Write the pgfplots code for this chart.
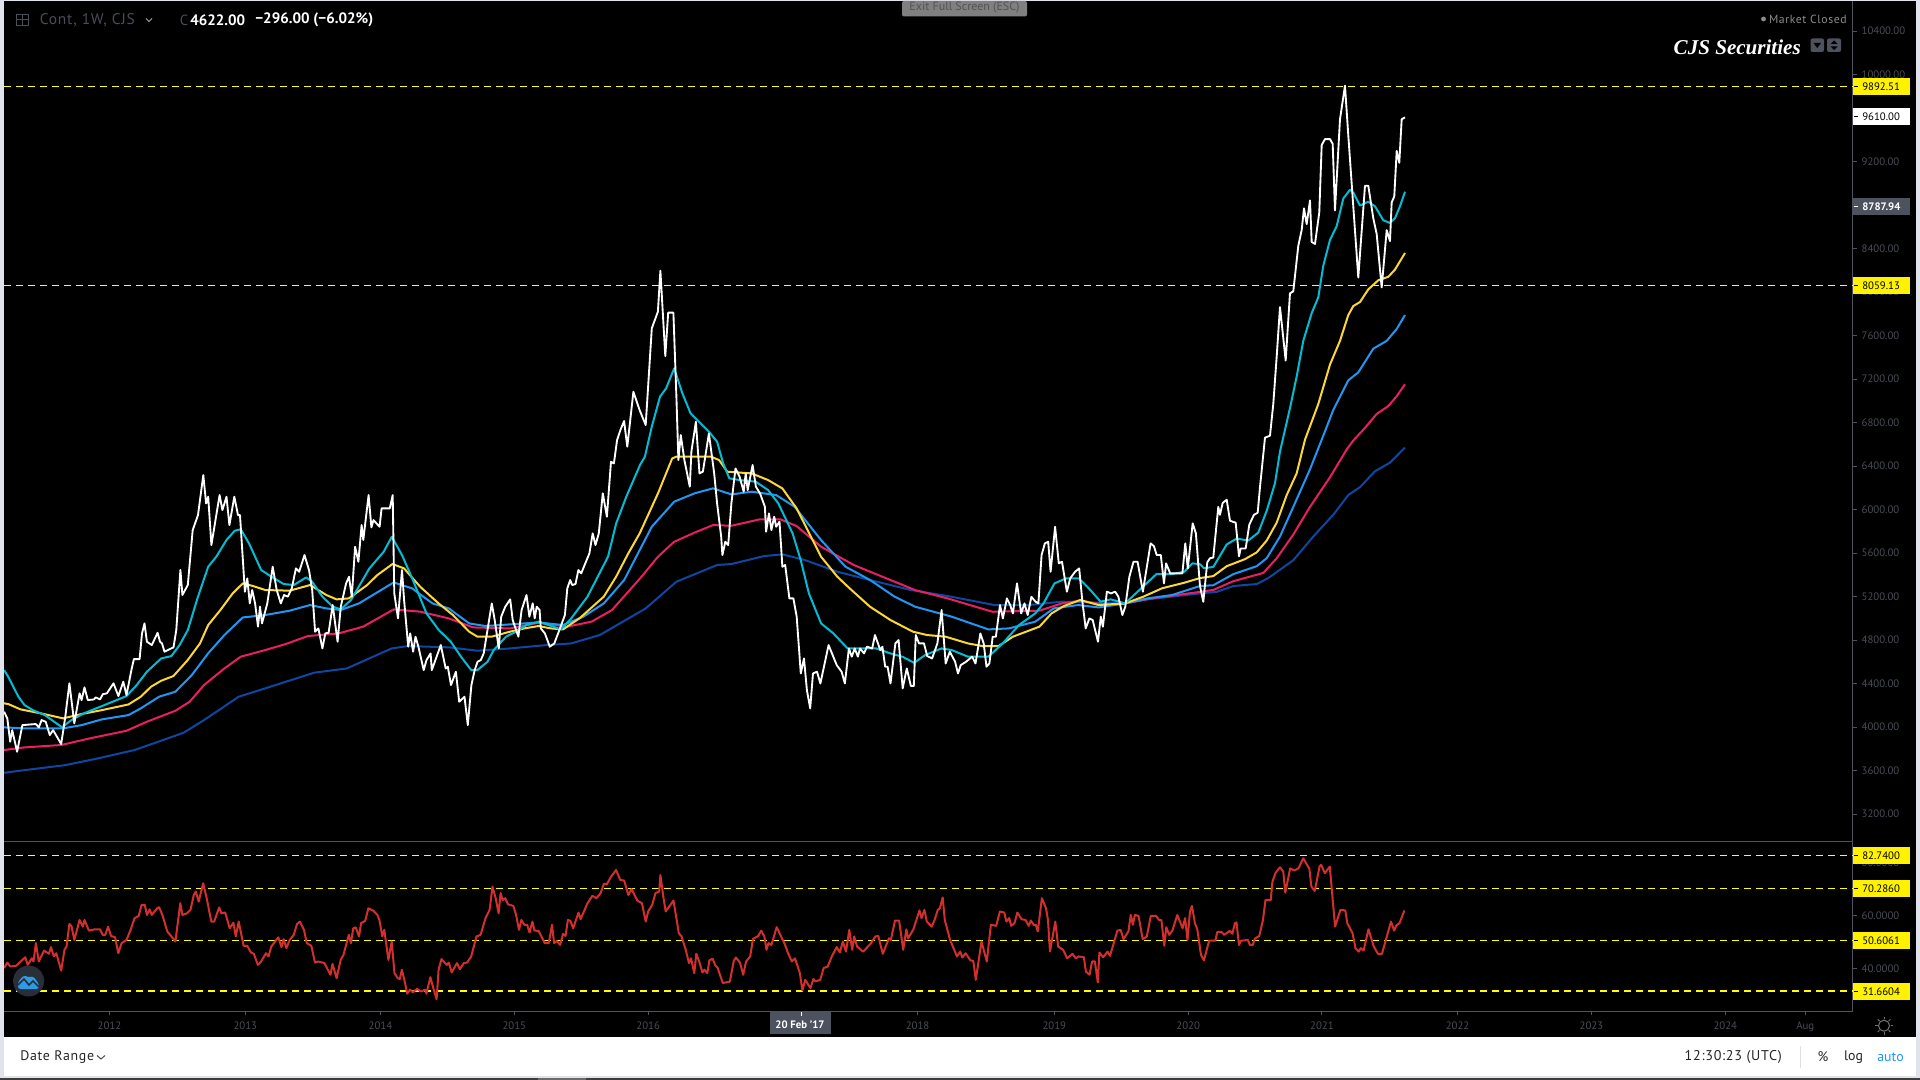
\documentclass[border=0pt]{standalone}
\usepackage{fontspec}
\usepackage{pgfplots}
\pgfplotsset{compat=1.18}
\setmainfont{PT Sans}
\newfontfamily\spc[LetterSpace=5]{PT Sans}
\newfontfamily\serifbi{Liberation Serif}
\definecolor{bgl}{HTML}{E0E3EB}
\definecolor{axl}{HTML}{50535E}
\definecolor{tkl}{HTML}{4A4D57}
\definecolor{boxg}{HTML}{4C525E}
\definecolor{cCyan}{HTML}{00BCD4}
\definecolor{cYel}{HTML}{FDD835}
\definecolor{cBlue}{HTML}{2196F3}
\definecolor{cPink}{HTML}{E91E63}
\definecolor{cDark}{HTML}{0D47A1}
\definecolor{cRed}{HTML}{D32F2F}
\definecolor{cDash}{HTML}{FFFF00}
\definecolor{logoD}{HTML}{2A2E39}
\definecolor{logoB}{HTML}{2E9BE6}
\pgfplotsset{
  paneaxis/.style={
    scale only axis, width=1386.75pt,
    xmin=4, xmax=1853,
    axis x line=bottom, axis y line=right,
    axis line style={draw=axl,line width=0.75pt,-},
    tick style={draw=axl,line width=0.75pt},
    major tick length=3pt,
    tick align=outside,
    scaled y ticks=false,
    tick label style={text=tkl,font=\fontsize{8.1}{10}\selectfont},
    every axis plot/.append style={line join=round,no markers},
  },
  lvl/.style={cDash,line width=1.1pt,dash pattern=on 5.25pt off 3.75pt},
}
\begin{document}
\begin{tikzpicture}
\begin{scope}[x=0.75pt,y=-0.75pt]
\fill[bgl] (0,0) rectangle (1920,1080);
\fill[black] (4,1) rectangle (1916,1037);
\fill[white] (4,1037) rectangle (1916,1076);
\fill[black!76] (0,1078) rectangle (1920,1080);
\fill[black!58] (538,1078) rectangle (586,1080);
\end{scope}

% ---------- price pane
\begin{axis}[paneaxis, name=main, at={(3pt,-630.75pt)}, anchor=south west,
  height=630pt, ymin=2953.4, ymax=10676.8,
  xtick=\empty,
  ytick={3200,3600,4000,4400,4800,5200,5600,6000,6400,6800,7200,7600,8000,8400,9200,10000,10400},
  /pgf/number format/fixed,/pgf/number format/fixed zerofill,/pgf/number format/precision=2,/pgf/number format/1000 sep={},/pgf/number format/assume math mode=true,
  ]
\addplot[lvl] coordinates {(4,9892.51)(1853,9892.51)};
\addplot[lvl] coordinates {(4,8059.13)(1853,8059.13)};
% long moving average
\addplot[cDark,line width=1.5pt] coordinates {(4.1,3581)(24.5,3605)(65.3,3651)(97.9,3713)(134.6,3790)(163.2,3882)(183.6,3949)(204,4065)(238.7,4280)(265.2,4357)(314.2,4501)(346.8,4540)(391.7,4724)(408,4746)(448.8,4734)(477.4,4703)(510,4724)(546.7,4755)(571.2,4770)(599.8,4847)(645.7,5092)(676.3,5337)(717.1,5491)(731.4,5500)(764,5573)(782.4,5589)(804.8,5537)(837.4,5429)(870.1,5353)(910.9,5261)(947.6,5206)(994.5,5123)(1029.2,5123)(1061.8,5154)(1125.1,5138)(1147.5,5175)(1199.7,5230)(1216.7,5244)(1233.3,5298)(1256.7,5316)(1268.3,5371)(1293.3,5535)(1313.3,5753)(1333.3,5953)(1348.3,6134)(1360,6207)(1375,6353)(1390,6432)(1405,6571)};
\addplot[cPink,line width=1.5pt] coordinates {(4.1,3790)(24.5,3814)(61.2,3836)(89.8,3897)(126.5,3967)(146.9,4050)(175.4,4151)(189.7,4234)(204,4387)(224.4,4540)(240.7,4648)(265.2,4709)(285.6,4764)(308,4838)(338.6,4862)(363.1,4924)(393.7,5083)(420.2,5062)(448.8,5000)(473.3,4917)(510,4908)(538.6,4960)(567.1,4924)(591.6,4970)(612,5077)(641.6,5384)(657.9,5567)(674.2,5705)(696.7,5797)(713,5858)(731.4,5852)(760,5911)(780.4,5911)(796.6,5849)(821.1,5659)(853.8,5491)(890.5,5353)(915,5261)(947.6,5184)(992.5,5061)(1039.4,5071)(1061.8,5138)(1080.2,5163)(1106.7,5123)(1125.1,5138)(1151.6,5184)(1200,5244)(1213.3,5262)(1233.3,5342)(1263.3,5418)(1276.7,5553)(1293.3,5771)(1310,6025)(1330,6298)(1346.7,6553)(1353.3,6636)(1363.3,6734)(1376.7,6880)(1388.3,6952)(1396.7,7043)(1405,7153)};
\addplot[cBlue,line width=1.5pt] coordinates {(4.1,3998)(24.5,3989)(63.2,3989)(81.6,4019)(102,4072)(128.5,4111)(140.8,4173)(159.1,4280)(175.4,4326)(191.8,4479)(208.1,4678)(224.4,4847)(242.8,5009)(265.2,5031)(289.7,5071)(310.1,5123)(326.4,5092)(340.7,5077)(359,5138)(393.7,5331)(412.1,5276)(432.5,5138)(448.8,5092)(469.2,4954)(485.5,4930)(510,4945)(538.6,4963)(563,4939)(583.4,5016)(603.8,5138)(624.2,5353)(651.8,5843)(674.2,6073)(694.6,6150)(713,6196)(731.4,6140)(751.8,6165)(776.2,6134)(794.6,6027)(821.1,5720)(845.6,5475)(870.1,5353)(894.6,5200)(915,5108)(951.7,5016)(988.4,4899)(1008.8,4908)(1035.3,4970)(1053.7,5092)(1078.2,5123)(1098.6,5101)(1125.1,5138)(1147.5,5184)(1172,5215)(1200,5298)(1213.3,5305)(1233.3,5407)(1256.7,5480)(1266.7,5553)(1280,5753)(1293.3,6025)(1310,6371)(1321.7,6643)(1333.3,6916)(1348.3,7189)(1358.3,7262)(1373.3,7480)(1386.7,7552)(1396.7,7661)(1405,7789)};
\addplot[cYel,line width=1.5pt] coordinates {(4.1,4219)(8.2,4213)(20.4,4164)(40.8,4127)(63.2,4081)(81.6,4121)(102,4157)(128.5,4209)(140.8,4280)(151,4372)(161.2,4427)(173.4,4470)(187.7,4617)(200,4770)(208.2,4939)(220.4,5077)(232.7,5230)(242.8,5322)(253,5298)(265.3,5261)(289.7,5255)(310.1,5307)(326.4,5215)(336.6,5175)(348.8,5184)(367.2,5307)(377.4,5399)(392.5,5500)(404,5460)(420.2,5291)(438.6,5138)(452.9,5031)(469.2,4878)(477.4,4832)(491.6,4832)(510,4878)(524.3,4908)(538.6,4930)(550.8,4908)(563,4899)(579.4,5000)(603.8,5200)(616.1,5383)(628.3,5598)(639.7,5782)(658,6150)(672.2,6471)(676.3,6487)(711,6487)(719.1,6456)(727.3,6349)(751.8,6333)(768.1,6272)(782.4,6195)(796.6,6012)(821.1,5567)(837.4,5383)(849.7,5276)(870.1,5107)(890.5,4985)(912.9,4878)(927.2,4847)(945.6,4832)(968,4770)(982.3,4746)(998.6,4746)(1012.9,4832)(1039.4,4924)(1051.6,5046)(1063.9,5114)(1080.2,5169)(1098.6,5123)(1125.1,5138)(1143.4,5200)(1161.8,5276)(1184.2,5328)(1200,5371)(1213.3,5389)(1226.7,5480)(1245,5545)(1256.7,5607)(1266.7,5716)(1276.7,5880)(1286.7,6134)(1296.7,6334)(1305,6643)(1318.3,6971)(1330,7334)(1340,7552)(1348.3,7789)(1353.3,7872)(1360,7909)(1368.3,8025)(1378.3,8109)(1388.3,8141)(1395,8207)(1405,8360)};
\addplot[cCyan,line width=1.5pt] coordinates {(4.1,4525)(8.2,4464)(18.4,4280)(24.5,4203)(32.7,4157)(44.9,4111)(62,3999)(71.4,4065)(83.7,4127)(102,4194)(126.5,4286)(136.7,4387)(146.9,4510)(161.2,4632)(171.4,4654)(179.6,4755)(187.8,4893)(198,5200)(208.2,5475)(216.3,5567)(226.5,5721)(234.7,5806)(240.8,5819)(249,5690)(261.2,5445)(271.4,5383)(283.7,5316)(293.9,5307)(306.1,5377)(312.2,5337)(322.4,5200)(332.7,5108)(340.8,5083)(351,5169)(369.4,5460)(383.7,5613)(391.8,5751)(402,5583)(412.2,5368)(426.5,5046)(438.8,4893)(450.8,4786)(461,4648)(471.2,4525)(477.4,4525)(487.6,4602)(493.7,4709)(506,4832)(516.1,4878)(526.3,4939)(538.6,4970)(548.8,4939)(561,4899)(571.2,5000)(587.5,5200)(608,5567)(616.2,5874)(626.3,6119)(640,6410)(644.9,6487)(651.8,6763)(660,7038)(666.1,7115)(674.2,7299)(682.4,7069)(690.6,6885)(696.7,6830)(708.9,6717)(717.1,6625)(723.2,6425)(729.3,6288)(739.5,6272)(755.8,6257)(768.1,6180)(778.3,6058)(792.6,5782)(800.7,5537)(808.9,5230)(821.1,4954)(833.4,4862)(847.6,4724)(861.9,4724)(876.2,4724)(890.5,4678)(902.7,4647)(914.1,4592)(925.2,4663)(941.5,4724)(951.7,4709)(968,4648)(988.4,4648)(1002.7,4770)(1019,4939)(1035.3,5046)(1043.5,5138)(1054.5,5322)(1065.9,5368)(1079,5368)(1090.4,5261)(1100.6,5154)(1110.8,5175)(1125.1,5138)(1139.4,5261)(1156.5,5408)(1172,5408)(1184.2,5429)(1192.4,5506)(1200,5498)(1204,5462)(1213.3,5473)(1226.7,5680)(1236.7,5734)(1248.3,5716)(1258.3,5789)(1266.7,5989)(1275,6243)(1280,6534)(1290,6934)(1296.7,7225)(1303.3,7552)(1311.7,7807)(1318.3,7952)(1323.3,8243)(1330,8480)(1336.7,8607)(1343.3,8861)(1350,8941)(1353.3,8916)(1360,8796)(1368.3,8832)(1375,8789)(1383.3,8661)(1390,8636)(1395,8680)(1400,8789)(1405,8923)};
% close
\addplot[white,line width=1.4pt] coordinates {(4.1,4142)(7.3,4081)(10.2,3866)(12.2,3973)(17.1,3774)(22.4,4019)(35.9,4029)(38.8,3998)(41.6,4065)(45.7,4050)(49.8,3927)(53.1,3973)(61.2,3845)(65.3,4096)(69.4,4403)(74.3,4035)(79.6,4311)(81.6,4249)(84.5,4366)(87.8,4249)(93.9,4255)(95.9,4274)(100,4255)(102.9,4304)(106.9,4311)(113.5,4403)(118.4,4286)(123.3,4418)(126.5,4295)(131.4,4525)(133.9,4626)(139.6,4626)(142,4862)(144.5,4954)(146.9,4786)(151.8,4755)(157.6,4868)(160,4786)(162,4770)(164.5,4694)(173.5,4734)(176.3,4893)(180.4,5445)(182.4,5215)(187.8,5307)(192.7,5812)(198,5950)(203.3,6318)(206.1,6058)(208.2,6119)(211.4,5675)(219.6,6134)(222.4,5996)(226.5,6119)(229.4,5858)(234.3,6119)(238,5950)(240,5950)(244.9,5245)(247.3,5368)(249.8,5138)(252.2,5261)(255.1,5138)(258,4924)(260,5108)(262,4954)(267.3,5138)(272.7,5475)(276.7,5261)(280.8,5138)(284.1,5215)(287.8,5200)(291.8,5276)(295.9,5460)(299.2,5429)(304.5,5583)(309,5445)(312.2,5261)(315.1,4878)(318.4,4908)(322.4,4724)(325.3,4862)(328.6,4868)(332.7,5123)(337.6,4786)(340.8,5108)(346.1,5322)(349,5383)(351.8,5199)(355.1,5659)(358.4,5521)(361.6,5858)(363.3,5721)(368.6,6134)(371.4,5837)(373.5,5904)(379.6,5843)(381.6,6012)(389.8,6012)(392.7,6134)(394.3,5230)(398,5000)(402,5445)(404.1,5169)(408.2,4740)(410.2,4862)(413.1,4694)(415.5,4832)(418.4,4740)(423.7,4525)(426.5,4617)(430.6,4678)(431.8,4525)(440.8,4755)(445.7,4540)(447.8,4556)(451,4387)(455.9,4510)(459.2,4234)(464.5,4280)(467.8,4019)(471.4,4387)(474.7,4525)(477.6,4602)(480.8,4617)(483.7,4678)(491.8,5138)(494.7,4985)(498.8,4724)(501.2,5016)(505.3,5108)(510.2,5175)(512.7,4985)(518.4,4832)(521.6,5077)(526.5,5215)(529.4,5016)(532.7,5138)(534.7,5000)(536.7,5108)(539.6,5077)(540.8,4908)(544.9,4862)(549.8,4740)(554.3,4770)(560,4908)(564.9,5031)(567.3,5276)(570.2,5353)(572.2,5307)(575.5,5316)(578.4,5445)(581.2,5414)(585.3,5506)(589.4,5598)(592.7,5782)(595.5,5674)(598.8,5782)(602.8,6150)(606.9,5935)(611,6441)(613.9,6425)(617.1,6640)(620.4,6732)(624.1,6815)(627.3,6579)(633.4,7084)(639.6,6916)(645.7,6778)(651.8,7667)(657.9,7820)(660.4,8197)(665.3,7412)(668.2,7811)(673.4,7811)(676.3,7069)(678.4,6456)(680.8,6686)(684.4,6456)(689.8,6211)(691.4,6533)(695.9,6809)(699.5,6333)(702.9,6349)(708.9,6701)(714.2,6333)(717.1,6058)(721.2,5751)(722.4,5582)(725.3,5705)(728.2,5674)(731.4,6058)(735.5,6379)(739.6,6303)(743.7,6165)(745.7,6333)(747.7,6180)(752.6,6410)(755.9,6211)(760,6150)(764.9,6027)(766.1,5797)(769,5966)(771.4,5812)(774.2,5935)(776.2,5843)(779.5,5889)(782.4,5475)(785.2,5491)(789.4,5184)(793.4,5184)(796.7,5016)(800.8,4494)(804,4632)(806.9,4341)(810.2,4173)(813,4494)(817,4510)(820.4,4402)(828.6,4755)(836.7,4571)(841.6,4510)(844.9,4402)(848.9,4724)(851.8,4648)(854.7,4724)(857.9,4648)(860,4724)(864.1,4678)(866.9,4740)(872.2,4724)(875,4847)(880.3,4709)(882.4,4740)(885.2,4556)(887.6,4556)(890.5,4402)(895.4,4770)(898.6,4801)(902.7,4357)(906.8,4540)(910.9,4378)(913.8,4378)(915.8,4847)(919,4770)(924,4770)(927.2,4654)(932.1,4632)(937.4,4770)(941.6,5077)(945.7,4586)(949.8,4694)(955.1,4602)(958,4494)(960.8,4571)(966.1,4602)(972.2,4648)(975.5,4586)(980.4,4862)(983.7,4770)(986.5,4556)(989.4,4586)(992.7,4832)(995.9,4832)(1000,5123)(1002.9,5000)(1006.9,5184)(1010.2,5123)(1012.9,5046)(1017,5322)(1021.2,5046)(1024.5,5138)(1027.7,5031)(1031.4,5199)(1035.5,5154)(1038.4,5138)(1041.6,5583)(1044.9,5690)(1048.2,5705)(1050.6,5429)(1055.1,5843)(1058.8,5506)(1062,5521)(1066.9,5246)(1070.2,5368)(1075.1,5429)(1079.2,5460)(1082.4,5154)(1085.7,4908)(1089.4,5000)(1092.7,4985)(1098,4786)(1100.8,5016)(1102.9,4924)(1106.9,5246)(1111,5230)(1115.1,5246)(1118.4,5200)(1122.4,5031)(1125.3,5108)(1129.4,5383)(1133.5,5521)(1137.6,5521)(1142.9,5246)(1150.6,5690)(1153.9,5665)(1156.7,5583)(1160.8,5583)(1164,5322)(1166.1,5506)(1170.2,5414)(1182.4,5414)(1185.3,5690)(1187.8,5460)(1192.7,5874)(1195.9,5782)(1200,5298)(1203.3,5153)(1207.3,5516)(1210,5553)(1213.3,5560)(1218.3,6025)(1220,5953)(1222.7,6062)(1226.7,6091)(1230,5898)(1235.7,5880)(1239,5571)(1240.7,5643)(1245.7,5643)(1249.3,5862)(1254,5953)(1257.7,5971)(1260,6207)(1265,6662)(1270,6680)(1273.3,6971)(1276.7,7407)(1280,7862)(1285.7,7371)(1290,7989)(1293.3,8007)(1298.3,8425)(1301.7,8571)(1304,8770)(1306.7,8625)(1310,8843)(1311.7,8461)(1315,8443)(1319.3,8734)(1321.7,9352)(1325,9407)(1330,9407)(1332.7,9363)(1335,8752)(1340,9589)(1345,9898)(1348.3,9443)(1358.3,8134)(1365,8978)(1368.3,8978)(1373.3,8680)(1376.7,8534)(1381.7,8043)(1386.7,8570)(1390,8469)(1391.7,8825)(1394.3,8880)(1396.7,9298)(1399.3,9189)(1401.7,9589)(1405,9607)};
\end{axis}

% ---------- oscillator pane
\begin{axis}[paneaxis, name=osc, at={(3pt,-758.6pt)}, anchor=south west,
  height=127.5pt, ymin=24.0, ymax=87.92,
  ytick={40,60,80},
  /pgf/number format/fixed,/pgf/number format/fixed zerofill,/pgf/number format/precision=4,/pgf/number format/1000 sep={},/pgf/number format/assume math mode=true,
  xtick={109.4,245.3,380.4,514.3,648.2,917.6,1054.3,1188.2,1322,1457.6,1591.4,1725.3,1805.3},
  xticklabels={2012,2013,2014,2015,2016,2018,2019,2020,2021,2022,2023,2024,Aug},
  xticklabel style={yshift=-1.5pt},
  ]
\addplot[lvl] coordinates {(4,82.74)(1853,82.74)};
\addplot[lvl] coordinates {(4,70.286)(1853,70.286)};
\addplot[lvl] coordinates {(4,50.6061)(1853,50.6061)};
\addplot[lvl] coordinates {(4,31.6604)(1853,31.6604)};
\addplot[cRed,line width=1.5pt] coordinates {(4.1,40.3)(7.3,42.4)(10.2,40.9)(16.3,41.2)(19.6,42.4)(25.3,44.4)(27.7,41.5)(31.8,44.0)(33.5,42.8)(35.9,49.7)(38.8,42.8)(44.1,46.9)(49,45.7)(51,48.2)(53.9,44.7)(56.3,45.9)(61.2,39.4)(64.5,47.2)(66.5,48.4)(69.4,56.9)(71.4,56.2)(74.3,50.9)(79.6,58.4)(82.8,55.9)(84.5,58.4)(88.9,54.4)(94.7,54.9)(100,54.9)(102.8,52.8)(105.3,52.8)(108.1,55.9)(111,52.4)(115.1,51.9)(118.3,45.9)(121.6,49.7)(126.5,50.9)(130.6,54.7)(134.6,59.1)(138.7,59.9)(141.6,64.1)(144.8,64.1)(146.9,60.3)(149.7,62.4)(151.8,60.3)(157.1,62.8)(159.1,63.2)(162.4,60.3)(167.3,54.1)(171.4,52.2)(175.4,50.3)(180.3,64.7)(182.4,60.3)(186.9,60.9)(190.5,62.2)(193.8,67.8)(195.8,69.1)(198.7,65.3)(203.2,72.2)(206.9,66.2)(211.3,57.8)(214.2,57.8)(219.1,63.1)(221.5,60.9)(225.2,61.2)(229.7,55.3)(233.4,57.4)(235.8,52.2)(238.7,57.8)(243.6,48.7)(247.2,48.7)(250.9,46.2)(253.8,45.7)(257.9,41.5)(261.1,42.8)(266,45.9)(268.5,44.7)(271.3,48.4)(278.3,51.9)(281.5,48.2)(283.6,51.2)(286.4,47.8)(289.7,50.9)(293.8,52.8)(297,56.9)(299.9,57.8)(304,54.7)(306.8,49.7)(311.3,48.7)(315,42.4)(318.2,42.8)(324.4,42.2)(330.5,37.8)(332.5,41.9)(336.6,36.5)(340.7,43.4)(343.5,45.3)(348.8,52.8)(350.9,49.7)(353.3,55.3)(355.8,55.6)(359,52.2)(361.1,57.2)(365.2,58.1)(368.4,62.8)(373.3,61.9)(377.4,60.3)(379.4,58.4)(382.3,52.2)(384.3,54.7)(388.4,43.4)(391.7,50.3)(394.5,38.4)(397.8,36.5)(399.8,36.2)(401.9,39.7)(404.7,35.3)(407.2,30.7)(410,32.2)(412.9,31.2)(417,32.5)(421.1,31.5)(425.1,32.2)(426.4,30.7)(430.4,36.9)(433.3,32.8)(436.6,28.6)(438.6,39.7)(441.5,43.7)(446.8,41.5)(448.8,42.4)(451.7,38.7)(457,42.2)(459.8,39.9)(463.9,42.2)(467.2,42.4)(471.2,44.7)(476.5,52.2)(480.6,52.8)(485.5,59.1)(489.6,62.2)(492.5,70.9)(495.7,66.6)(498.6,60.9)(500.6,68.5)(502.7,65.9)(505.1,66.6)(508,64.3)(513.3,63.7)(516.1,60.3)(519,54.7)(521.4,58.4)(524.3,56.6)(527.1,56.6)(529.6,53.7)(532.4,57.8)(534.5,54.4)(538.6,54.3)(544.7,49.7)(548.8,49.7)(552,56.6)(554.1,49.7)(556.9,50.5)(560.2,49.0)(563,53.2)(565.5,52.4)(567.9,58.4)(570.4,58.1)(573.2,55.3)(578.5,61.2)(580.6,58.7)(587.5,64.7)(592.4,67.5)(596.5,66.6)(600.6,68.5)(603.8,72.0)(606.7,71.8)(610.8,74.5)(616.1,77.2)(620.2,73.5)(624.2,73.2)(628.3,67.8)(631.6,70.0)(637.3,65.7)(642,64.7)(645.7,57.8)(648.2,61.6)(652.2,64.1)(655.5,68.5)(659.2,69.1)(660.4,75.3)(663.3,67.2)(665.7,61.6)(673.5,65.7)(677.5,56.6)(678.8,53.4)(681.6,52.2)(685.7,47.2)(689,42.2)(691,44.0)(694.3,38.4)(696.3,45.7)(699.2,42.8)(702.4,38.7)(704.5,39.7)(707.3,38.4)(709.4,43.2)(712.6,43.8)(715.5,41.2)(717.5,40.5)(722.8,34.7)(729.8,35.2)(733.8,43.0)(735.9,44.3)(740,42.4)(743.2,37.8)(746.1,42.8)(750.2,44.7)(753,51.3)(758.3,52.4)(761.2,54.4)(764.4,52.2)(766.5,47.2)(768.5,49.7)(771.4,49.0)(776.7,55.7)(784.8,49.3)(788.1,45.9)(791.8,42.8)(795,44.0)(799.9,38.4)(802.4,31.9)(805.2,35.9)(810.5,32.8)(813.4,36.2)(815.4,35.3)(820.3,35.9)(823.6,40.3)(827.7,40.9)(831.8,44.7)(836.7,48.2)(839.9,46.2)(842.8,50.3)(846,46.5)(849.3,54.7)(852.2,47.2)(854.2,52.2)(857.1,48.4)(863.2,46.5)(870.5,49.4)(875.4,52.2)(878.3,52.4)(882.8,45.7)(888.9,51.5)(890.9,50.9)(895,58.2)(899.1,58.2)(903.2,47.2)(906.4,54.9)(908.1,51.5)(913.4,54.9)(919.5,62.0)(921.5,59.1)(924.4,62.2)(926.8,57.8)(931.7,55.9)(934.6,58.4)(937.8,62.2)(939.9,62.8)(942.7,66.9)(944.8,58.4)(950.1,50.9)(957,44.7)(960.3,46.5)(962.3,44.3)(965.6,45.9)(970.5,43.2)(973.3,43.0)(975.8,35.9)(981.5,50.3)(986.8,42.8)(990.9,56.6)(996.2,56.2)(999.9,61.6)(1004.3,61.2)(1006.4,57.8)(1009.2,59.1)(1011.3,56.2)(1014.5,57.2)(1017.4,61.2)(1021.5,58.7)(1025.6,58.4)(1028.8,56.2)(1030.9,58.2)(1033.7,56.6)(1035.8,56.6)(1037.8,54.1)(1041.9,66.6)(1046,62.8)(1048,58.4)(1050,46.5)(1055.3,57.8)(1058.2,48.4)(1063.1,47.2)(1067.2,44.0)(1072.5,45.7)(1075.7,44.0)(1078.6,44.7)(1083.9,44.4)(1085.9,39.0)(1089.6,37.8)(1092.1,42.8)(1094.9,42.8)(1097.8,34.9)(1099.4,46.2)(1103.1,44.4)(1107.6,46.5)(1110,44.9)(1117.4,54.4)(1120.6,54.7)(1123.5,51.2)(1128.4,54.1)(1130.8,60.3)(1132.9,56.6)(1134.9,60.3)(1138.6,59.9)(1142.7,51.2)(1146.8,52.2)(1150.8,59.9)(1156.2,59.9)(1159,58.4)(1161.4,58.4)(1164.3,48.7)(1166.3,55.7)(1169.2,52.8)(1172.4,54.4)(1177.3,60.3)(1182.6,55.3)(1185.1,59.1)(1187.5,50.9)(1190,61.6)(1192,63.7)(1194.9,57.2)(1197.3,54.9)(1201,45.3)(1203.9,43.2)(1209.2,50.6)(1215.3,50.6)(1217.3,53.9)(1221.4,53.9)(1224.3,52.8)(1229.6,54.3)(1232.4,53.2)(1234.9,57.2)(1236.5,57.5)(1239,49.0)(1241,50.6)(1247.9,50.9)(1249.9,49.0)(1252.8,49.0)(1254.9,51.4)(1259.3,52.4)(1263,58.4)(1265.5,65.9)(1270.8,65.9)(1272.4,72.8)(1275.7,76.2)(1280,78.2)(1283.3,76.6)(1285.3,68.7)(1290.2,77.8)(1294.3,77.0)(1298.4,77.8)(1303.3,81.6)(1309.4,77.6)(1311.4,71.0)(1314.7,69.3)(1319.6,78.5)(1321.2,79.1)(1324.9,76.0)(1329.8,78.5)(1335.1,55.9)(1340.4,62.2)(1345.3,62.0)(1347.3,57.2)(1352.6,53.4)(1355.5,47.8)(1358.7,46.5)(1360.8,47.8)(1363.6,46.9)(1368.5,54.9)(1373.8,48.4)(1377.9,45.7)(1382,45.7)(1391,57.8)(1394.2,54.4)(1396.3,56.3)(1399.5,57.2)(1404.4,62.0)};
\end{axis}

% ---------- overlays (text, boxes, icons), coordinates in reference pixels
\begin{scope}[x=0.75pt,y=-0.75pt]
\tikzset{pl/.style={font=\fontsize{8.1}{10}\selectfont,inner sep=0pt,anchor=west}}
\newcommand{\pricebox}[5]{% y, fill, text, string, tick colour
  \fill[#2] (1853,#1-8.5) rectangle (1909.5,#1+8.5);
  \draw[#5,line width=0.75pt] (1853.5,#1) -- (1857.5,#1);
  \node[pl,text=#3] at (1862,#1) {#4};
}
\pricebox{86.3}{yellow}{black}{9892.51}{black}
\pricebox{117.0}{white}{black}{9610.00}{black}
\pricebox{206.5}{boxg}{white}{\textbf{8787.94}}{white}
\pricebox{285.7}{yellow}{black}{8059.13}{black}
\pricebox{855.3}{yellow}{black}{82.7400}{black}
\pricebox{888.3}{yellow}{black}{70.2860}{black}
\pricebox{940.3}{yellow}{black}{50.6061}{black}
\pricebox{991.3}{yellow}{black}{31.6604}{black}

% header
\draw[tkl,line width=0.75pt] (16.5,14.5) rectangle (28.5,25.5) (22.5,14.5) -- (22.5,25.5) (16.5,20) -- (28.5,20);
\node[anchor=west,inner sep=0pt,text=tkl,font=\fontsize{11.6}{13}\spc] at (39.5,20) {Cont, 1W, CJS};
\draw[black!35,line width=0.75pt] (146,18.5) -- (149,21.5) -- (152,18.5);
\node[anchor=west,inner sep=0pt,text=tkl,font=\fontsize{11}{13}\selectfont] at (179.5,20) {C};
\node[anchor=west,inner sep=0pt,text=white,font=\fontsize{11.3}{13}\selectfont] at (190,20) {\textbf{4622.00}};
\node[anchor=west,inner sep=0pt,text=white,font=\fontsize{11.3}{13}\selectfont] at (255,20) {\textbf{−296.00 (−6.02\%)}};

% exit full screen
\fill[black!50,rounded corners=1.5pt] (902,1) rectangle (1027,16.5);
\node[inner sep=0pt,text=black!67,font=\fontsize{9}{10}\selectfont] at (964.5,8) {Exit Full Screen (ESC)};

% market closed, brand
\fill[black!45!white] (1763.5,19) circle (2.4);
\node[anchor=east,inner sep=0pt,text=black!45!white,font=\fontsize{8.8}{10}\spc] at (1847,19) {Market Closed};
\node[anchor=east,inner sep=0pt,text=white,font=\fontsize{15.8}{18}\serifbi\bfseries\itshape] at (1801,47) {CJS Securities};
\fill[boxg,rounded corners=1.5pt] (1810.5,38.5) rectangle (1824,52);
\fill[black] (1813.5,43) -- (1821,43) -- (1817.2,48) -- cycle;
\fill[boxg,rounded corners=1.5pt] (1827,38.5) rectangle (1841,52);
\fill[black] (1830.5,44) -- (1837.5,44) -- (1834,40.5) -- cycle;
\fill[black] (1830.5,46.5) -- (1837.5,46.5) -- (1834,50) -- cycle;

% crosshair date label
\fill[boxg] (770,1012) rectangle (830.6,1033.7);
\draw[white,line width=0.75pt] (801.2,1012) -- (801.2,1015.5);
\node[inner sep=0pt,text=white,font=\fontsize{8.1}{10}\selectfont] at (800,1024.5) {\textbf{20 Feb '17}};

% settings icon
\draw[black!55!white,line width=0.75pt] (1884,1025.7) circle (5.5);
\foreach \a in {0,45,...,315}{\draw[black!55!white,line width=0.75pt] (1884,1025.7) ++(\a:6.5) -- ++(\a:2.5);}

% logo
\fill[logoD] (28.6,981) circle (15.5);
\fill[logoB,rounded corners=2pt] (18,989) -- (18,982) -- (24,975) -- (28,977.5) -- (33,976) -- (39,984) -- (39,989) -- cycle;
\draw[logoD,line width=1.2pt] (18,985) -- (24,979) -- (29,985) -- (33,981) -- (39,987);

% bottom bar
\node[anchor=west,inner sep=0pt,text=black!85,font=\fontsize{10.4}{12}\spc] at (20,1057) {Date Range};
\draw[black!70,line width=0.75pt] (97,1055.5) -- (101,1059) -- (105,1055.5);
\node[anchor=east,inner sep=0pt,text=black!85,font=\fontsize{10.6}{12}\spc] at (1782,1057) {12:30:23 (UTC)};
\draw[black!12,line width=0.75pt] (1800,1046) -- (1800,1068);
\node[inner sep=0pt,text=black!85,font=\fontsize{10.4}{12}\selectfont] at (1823,1057) {\%};
\node[inner sep=0pt,text=black!85,font=\fontsize{10.4}{12}\selectfont] at (1853.5,1057) {log};
\node[inner sep=0pt,text=cBlue,font=\fontsize{10.4}{12}\selectfont] at (1890.5,1057) {auto};
\end{scope}
\end{tikzpicture}
\end{document}
